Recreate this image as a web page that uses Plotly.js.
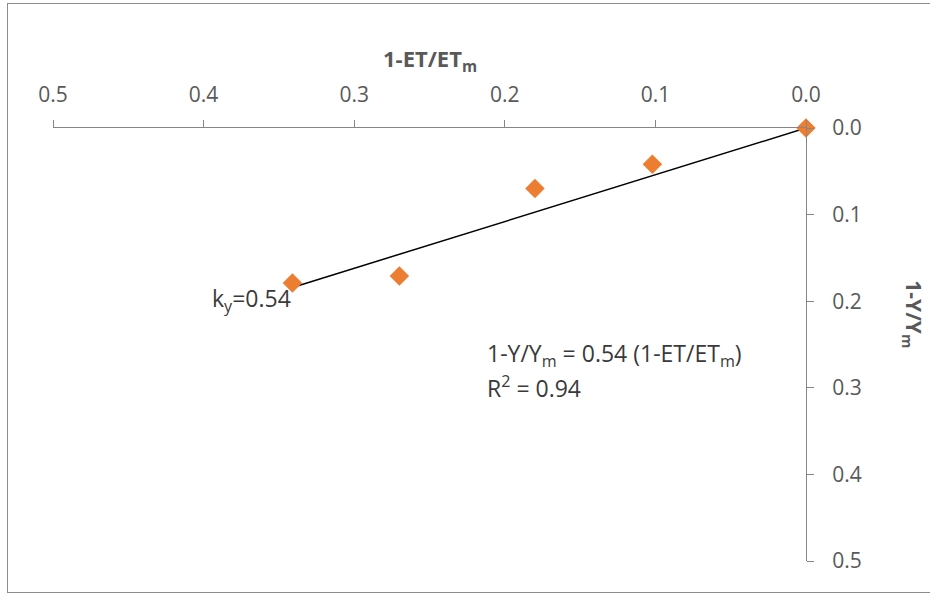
<!DOCTYPE html>
<html>
<head>
<meta charset="utf-8">
<script src="https://cdn.plot.ly/plotly-3.0.1.min.js"></script>
<style>
  html, body { margin: 0; padding: 0; background: #fff; }
  #wrap { position: relative; width: 930px; height: 594px; overflow: hidden; }
  #chart { position: absolute; left: 0; top: 0; width: 930px; height: 594px; }
  #frame { position: absolute; left: 7px; top: 3px; width: 940px; height: 588px; border: 1px solid #8c8c8c; pointer-events: none; }
</style>
</head>
<body>
<div id="wrap"><div id="chart"></div><div id="frame"></div></div>
<script>
// Data
const relETdeficit = [0.0, 0.102, 0.18, 0.27, 0.341];   // 1-ET/ETm
const relYieldDecrease = [0.0, 0.042, 0.070, 0.171, 0.179]; // 1-Y/Ym
const ky = 0.54;
const r2 = 0.94;
const xTickVals = [0.5, 0.4, 0.3, 0.2, 0.1, 0.0];
const yTickVals = [0.0, 0.1, 0.2, 0.3, 0.4, 0.5];

// Fitted trend line through origin (slope ky)
const trendX = [0, Math.max(...relETdeficit)];
const trendY = trendX.map(v => ky * v);

const labelColor = '#595959';
const textColor = '#3a3a3a';
const fontFam = '"Open Sans", "Noto Sans", sans-serif';

const traces = [
  {
    x: trendX, y: trendY, type: 'scatter', mode: 'lines', cliponaxis: false,
    line: {color: '#000000', width: 1.5}, hoverinfo: 'skip', showlegend: false
  },
  {
    x: relETdeficit, y: relYieldDecrease, type: 'scatter', mode: 'markers', cliponaxis: false,
    marker: {symbol: 'diamond', size: 15, color: '#ED7D31'}, showlegend: false
  }
];

const layout = {
  width: 930, height: 594,
  margin: {l: 53, r: 124, t: 128, b: 33, pad: 0},
  paper_bgcolor: 'rgba(0,0,0,0)', plot_bgcolor: 'rgba(0,0,0,0)',
  font: {family: fontFam, color: labelColor, size: 21},
  showlegend: false,
  xaxis: {
    side: 'top', range: [0.5, 0], tickvals: xTickVals, tickformat: '.1f',
    showgrid: false, zeroline: false, showline: true, linecolor: '#868686', linewidth: 1,
    ticks: 'outside', ticklen: 7, tickcolor: '#868686', ticklabelstandoff: 10,
    tickfont: {size: 21, color: labelColor}, fixedrange: true
  },
  yaxis: {
    side: 'right', range: [0.5, 0], tickvals: yTickVals, tickformat: '.1f',
    showgrid: false, zeroline: false, showline: true, linecolor: '#868686', linewidth: 1,
    ticks: 'outside', ticklen: 7, tickcolor: '#868686', ticklabelstandoff: 14,
    tickfont: {size: 21, color: labelColor}, fixedrange: true
  },
  annotations: [
    {xref: 'paper', yref: 'paper', x: 0.500, y: 1.157, xanchor: 'center', yanchor: 'middle',
     text: '<b>1-ET/ET<sub>m</sub></b>', showarrow: false, font: {size: 22, color: labelColor}},
    {xref: 'paper', yref: 'paper', x: 1.142, y: 0.57, xanchor: 'center', yanchor: 'middle',
     text: '<b>1-Y/Y<sub>m</sub></b>', textangle: 90, showarrow: false, font: {size: 21, color: labelColor}},
    {xref: 'paper', yref: 'paper', x: 0.3185, y: 0.603, xanchor: 'right', yanchor: 'middle',
     text: 'k<sub>y</sub>=' + ky.toFixed(2), showarrow: false, font: {size: 23, color: textColor}},
    {xref: 'paper', yref: 'paper', x: 0.574, y: 0.476, xanchor: 'left', yanchor: 'middle',
     text: '1-Y/Y<sub>m</sub> = ' + ky.toFixed(2) + ' (1-ET/ET<sub>m</sub>)', showarrow: false, align: 'left',
     font: {size: 23, color: textColor}},
    {xref: 'paper', yref: 'paper', x: 0.574, y: 0.403, xanchor: 'left', yanchor: 'middle',
     text: 'R<sup>2</sup> = ' + r2.toFixed(2), showarrow: false, align: 'left',
     font: {size: 23, color: textColor}}
  ]
};

Plotly.newPlot('chart', traces, layout, {staticPlot: true, displayModeBar: false});
</script>
</body>
</html>
